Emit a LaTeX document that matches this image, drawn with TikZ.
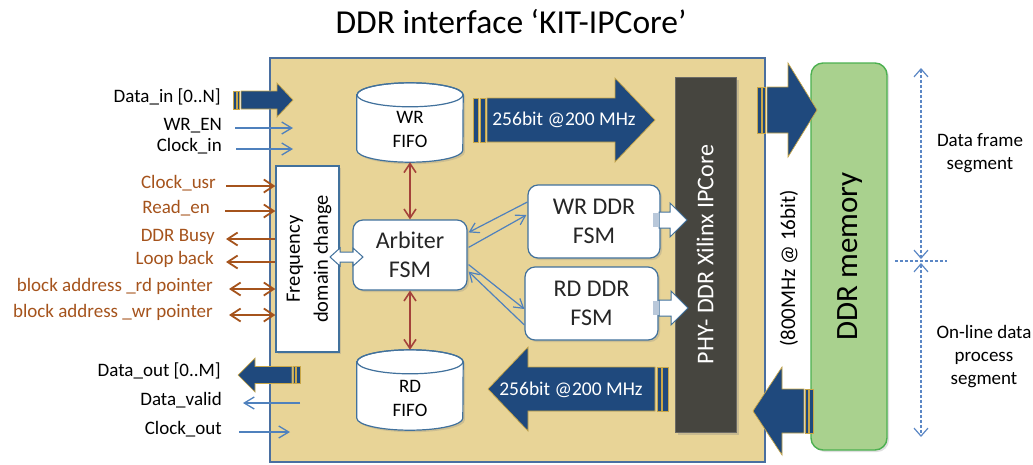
\documentclass[tikz,border=0pt]{standalone}
\usepackage{fontspec}
\setmainfont{Carlito}
\usetikzlibrary{arrows.meta,calc,shadows}

\definecolor{coreFill}{HTML}{E8D497}
\definecolor{coreLine}{HTML}{4A6FA0}
\definecolor{nodeLine}{HTML}{41719C}
\definecolor{sigBlue}{HTML}{4F81BD}
\definecolor{sigBrown}{HTML}{A5531C}
\definecolor{linkRed}{HTML}{A4423A}
\definecolor{busBlue}{HTML}{1F497D}
\definecolor{busGold}{HTML}{C9A748}
\definecolor{phyGray}{HTML}{46453F}
\definecolor{memFill}{HTML}{A9D18E}
\definecolor{memLine}{HTML}{4CB050}
\definecolor{stripeGray}{HTML}{B9C8DA}
\definecolor{segBlue}{HTML}{5B87C5}

\tikzset{brtip/.tip={Straight Barb[length=10pt,width=13pt]}}

% wide data bus arrow: tail, body start, head base, tip, y centre, shaft half, head half
\newcommand\busarrow[7]{%
  \filldraw[busbody] (#2,{#5-#6}) -- (#3,{#5-#6}) -- (#3,{#5-#7}) -- (#4,#5)
    -- (#3,{#5+#7}) -- (#3,{#5+#6}) -- (#2,{#5+#6}) -- cycle;
  \filldraw[busbody] (#1,{#5-#6}) rectangle ({#1+(#2-#1)*0.4},{#5+#6});
  \filldraw[busbody] ({#1+(#2-#1)*0.55},{#5-#6}) rectangle ({#1+(#2-#1)*0.85},{#5+#6});
}
% white control arrow into the PHY block
\newcommand\ctrlarrow[7]{%
  \filldraw[ctrlbody] (#2,{#5-#6}) -- (#3,{#5-#6}) -- (#3,{#5-#7}) -- (#4,#5)
    -- (#3,{#5+#7}) -- (#3,{#5+#6}) -- (#2,{#5+#6}) -- cycle;
  \fill[stripeGray] (#1,{#5-#6+0.6}) rectangle (#2,{#5+#6-0.6});
}

\begin{document}
\begin{tikzpicture}[x=1pt,y=-1pt,
  lbl/.style={font=\fontsize{19}{23}\selectfont, inner sep=0pt, anchor=mid east},
  blbl/.style={lbl, text=sigBrown},
  bluesig/.style={draw=sigBlue, line width=1.3pt, -{Straight Barb[length=10pt,width=12pt]}},
  brownsig/.style={draw=sigBrown, line width=1.8pt},
  redlink/.style={draw=linkRed, line width=1.6pt, {Straight Barb[length=9pt,width=12pt]}-{Straight Barb[length=9pt,width=12pt]}},
  fsmlink/.style={draw=sigBlue, line width=1.2pt, -{Straight Barb[length=9pt,width=11pt]}},
  busbody/.style={fill=busBlue, draw=busGold, line width=0.7pt},
  ctrlbody/.style={fill=white, draw=nodeLine, line width=1pt},
  shade/.style={drop shadow={shadow xshift=2pt, shadow yshift=-2pt, opacity=0.25}},
  fsm/.style={shade, draw=nodeLine, fill=white, line width=1.2pt, rounded corners=10pt,
    align=center, font=\fontsize{24}{29}\selectfont, text=black!85},
  cyl/.style={shade, fill=white, draw=nodeLine, line width=1.2pt},
  seg/.style={draw=segBlue, line width=1.2pt, dash pattern=on 3pt off 2pt},
  seghead/.style={seg, {Straight Barb[length=8pt,width=14pt]}-{Straight Barb[length=8pt,width=14pt]}}
]
\useasboundingbox (0,0) rectangle (1033,464);

% title
\node[font=\fontsize{33.5}{38}\selectfont] (title) at (511,22) {DDR interface ‘KIT-IPCore’};

% core block
\node[draw=coreLine, fill=coreFill, line width=1.3pt, minimum width=495pt, minimum height=404pt, inner sep=0]
  (core) at (517.5,260) {};

% frequency domain crossing
\node[shade, draw=nodeLine, fill=white, line width=1.2pt, minimum width=63pt, minimum height=186pt, inner sep=0]
  (freq) at (307.5,259) {};
\node[rotate=90, align=center, font=\fontsize{20.5}{28}\selectfont] (freqtxt) at (309,259) {Frequency\\domain change};

% FIFOs
\node[minimum width=106pt, minimum height=79pt, inner sep=0] (wrfifo) at (410,122.5) {};
\path[cyl] ($(wrfifo.north west)+(0,12)$) -- ($(wrfifo.south west)+(0,-12)$)
  arc[start angle=180, end angle=0, x radius=53, y radius=12]
  -- ($(wrfifo.north east)+(0,12)$) arc[start angle=0, end angle=-180, x radius=53, y radius=12] -- cycle;
\draw[nodeLine, line width=1.2pt] ($(wrfifo.north)+(0,12)$) ellipse [x radius=53, y radius=12];
\node[align=center, font=\fontsize{19}{24}\selectfont] (wrfifotxt) at (410,129) {WR\\FIFO};

\node[minimum width=106pt, minimum height=80pt, inner sep=0] (rdfifo) at (410,390) {};
\path[cyl] ($(rdfifo.north west)+(0,12)$) -- ($(rdfifo.south west)+(0,-12)$)
  arc[start angle=180, end angle=0, x radius=53, y radius=12]
  -- ($(rdfifo.north east)+(0,12)$) arc[start angle=0, end angle=-180, x radius=53, y radius=12] -- cycle;
\draw[nodeLine, line width=1.2pt] ($(rdfifo.north)+(0,12)$) ellipse [x radius=53, y radius=12];
\node[align=center, font=\fontsize{19}{24}\selectfont] (rdfifotxt) at (410,398) {RD\\FIFO};

% state machines
\node[fsm, minimum width=114pt, minimum height=70pt] (arb) at (410,255) {Arbiter\\FSM};
\node[fsm, minimum width=132pt, minimum height=73pt] (wrfsm) at (594,221.5) {WR DDR\\FSM};
\node[fsm, minimum width=133pt, minimum height=73pt] (rdfsm) at (591.5,303.5) {RD DDR\\FSM};

% PHY
\node[drop shadow={shadow xshift=3pt, shadow yshift=-3pt, opacity=0.3}, fill=phyGray, draw=phyGray!80!white,
  minimum width=61pt, minimum height=355pt, inner sep=0] (phy) at (705.5,254.5) {};
\node[rotate=90, text=white, font=\fontsize{24}{28}\selectfont] (phytxt) at (705,254.5) {PHY- DDR Xilinx IPCore};

% DDR memory
\node[drop shadow={shadow xshift=2pt, shadow yshift=-2pt, opacity=0.25}, fill=memFill, draw=memLine,
  line width=1.4pt, rounded corners=12pt, minimum width=76pt, minimum height=387pt, inner sep=0]
  (ddr) at (849,256.5) {};
\node[rotate=90, font=\fontsize{31}{34}\selectfont] (ddrtxt) at (850,256.5) {DDR memory};
\node[rotate=90, font=\fontsize{21}{24}\selectfont] (ddrrate) at (789,268.5) {(800MHz @ 16bit)};

% wide buses
\busarrow{233}{241}{277}{293}{100}{9}{17}
\busarrow{473}{487}{615}{655}{120}{22}{42}
\busarrow{668}{655}{528}{488}{389}{22}{42}
\busarrow{300}{292}{255}{238}{375}{8.5}{17}
\busarrow{757}{767}{788}{817}{110}{23}{47}
\busarrow{813}{804}{782}{753}{411}{22}{44}
\node[text=white, font=\fontsize{19.5}{22}\selectfont] (wrbus) at (564,120) {256bit @200 MHz};
\node[text=white, font=\fontsize{19.5}{22}\selectfont] (rdbus) at (571,390) {256bit @200 MHz};

% control arrows
\ctrlarrow{653}{659}{670}{687}{220}{8}{17}
\ctrlarrow{653}{659}{671}{688}{308}{8}{17}
\filldraw[ctrlbody] (330,257) -- (340,248) -- (340,252) -- (353,252) -- (353,248) -- (363,257)
  -- (353,266) -- (353,262) -- (340,262) -- (340,266) -- cycle;

% arbiter links
\draw[redlink] (wrfifo.south) -- (arb.north);
\draw[redlink] (arb.south) -- (rdfifo.north);
\draw[fsmlink] ($(wrfsm.west)+(0,-19.5)$) -- ($(arb.north east)+(1,13)$);
\draw[fsmlink] ($(arb.north east)+(1,28)$) -- ($(wrfsm.west)+(-1,-6.5)$);
\draw[fsmlink] ($(arb.south east)+(1,-26)$) -- ($(rdfsm.west)+(0,5.5)$);
\draw[fsmlink] ($(rdfsm.west)+(0,21.5)$) -- ($(arb.south east)+(1,-19)$);

% user-side signals
\node[lbl] (ldin) at (221,100) {Data\_in [0..N]};
\node[lbl] (lwren) at (222,128) {WR\_EN};
\node[lbl] (lclkin) at (222,149) {Clock\_in};
\node[blbl] (lclkusr) at (216,186) {Clock\_usr};
\node[blbl] (lrden) at (210,211) {Read\_en};
\node[blbl] (lbusy) at (215,239) {DDR Busy};
\node[blbl] (lloop) at (214,262) {Loop back};
\node[blbl] (lrdptr) at (213,289) {block address \_rd pointer};
\node[blbl] (lwrptr) at (213,315) {block address \_wr pointer};
\node[lbl] (ldout) at (221,374) {Data\_out [0..M]};
\node[lbl] (lvalid) at (222,403) {Data\_valid};
\node[lbl] (lclkout) at (222,432) {Clock\_out};

\coordinate (wrenE) at (293,128);
\coordinate (clkinE) at (293,149);
\coordinate (validS) at (300,403);
\coordinate (clkoutE) at (290,432);
\draw[bluesig] ([xshift=13pt]lwren.mid east) -- (wrenE);
\draw[bluesig] ([xshift=14pt]lclkin.mid east) -- (clkinE);
\draw[bluesig] (validS) -- ([xshift=21pt]lvalid.mid east);
\draw[bluesig] ([xshift=17pt]lclkout.mid east) -- (clkoutE);

\draw[brownsig, -{brtip}] ([xshift=10pt]lclkusr.mid east) -- (lclkusr.mid east -| freq.west);
\draw[brownsig, -{brtip}] ([xshift=15pt]lrden.mid east) -- (lrden.mid east -| freq.west);
\draw[brownsig, {brtip}-] ([xshift=11pt]lbusy.mid east) -- (lbusy.mid east -| freq.west);
\draw[brownsig, {brtip}-] ([xshift=12pt]lloop.mid east) -- (lloop.mid east -| freq.west);
\draw[brownsig, {brtip}-{brtip}] ([xshift=16pt]lrdptr.mid east) -- (lrdptr.mid east -| freq.west);
\draw[brownsig, {brtip}-{brtip}] ([xshift=16pt]lwrptr.mid east) -- (lwrptr.mid east -| freq.west);

% memory segmentation
\coordinate (segtop) at (921,68);
\coordinate (segmidA) at (921,259);
\coordinate (segmidB) at (921,263);
\coordinate (segbot) at (921,437);
\coordinate (divL) at (895,261);
\coordinate (divR) at (947,261);
\draw[seghead] (segtop) -- (segmidA);
\draw[seghead] (segmidB) -- (segbot);
\draw[seg] (divL) -- (divR);
\node[align=center, font=\fontsize{19}{23}\selectfont] (dfseg) at (980,153.5) {Data frame\\segment};
\node[align=center, font=\fontsize{19}{23}\selectfont] (olseg) at (984,357) {On-line data\\process\\segment};
\end{tikzpicture}
\end{document}
